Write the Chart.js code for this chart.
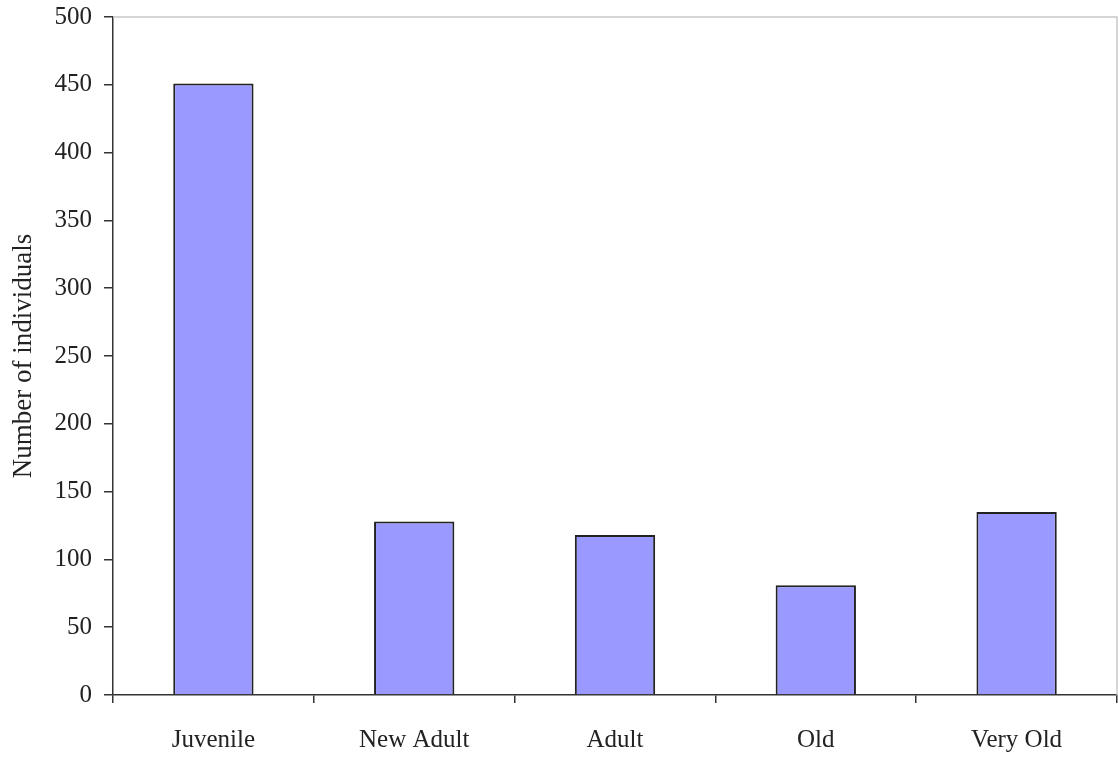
<!DOCTYPE html>
<html lang="en">
<head>
  <meta charset="utf-8">
  <title>Number of individuals</title>
  <script src="https://cdn.jsdelivr.net/npm/chart.js"></script>
  <style>
    html, body { margin: 0; padding: 0; background: #fff; }
    #wrap { width: 1118px; height: 761px; }
  </style>
</head>
<body>
  <div id="wrap"><canvas id="ageChart"></canvas></div>

  <script>
    const categories = ['Juvenile', 'New Adult', 'Adult', 'Old', 'Very Old'];
    const individuals = [451, 128, 118, 81, 135];
    const yTicks = [0, 50, 100, 150, 200, 250, 300, 350, 400, 450, 500];

    const serif = '"Liberation Serif", "Times New Roman", serif';

    // light grey frame on top and right of the plot area
    const frame = {
      id: 'frame',
      afterDraw(chart) {
        const { ctx, chartArea: a } = chart;
        ctx.save();
        ctx.strokeStyle = '#c8c8c8';
        ctx.lineWidth = 1.5;
        ctx.beginPath();
        ctx.moveTo(a.left, a.top);
        ctx.lineTo(a.right, a.top);
        ctx.lineTo(a.right, a.bottom);
        ctx.stroke();
        ctx.restore();
      }
    };

    new Chart(document.getElementById('ageChart').getContext('2d'), {
      type: 'bar',
      data: {
        labels: categories,
        datasets: [{
          label: 'Number of individuals',
          data: individuals,
          backgroundColor: '#9999ff',
          borderColor: '#222',
          borderWidth: 2,
          barPercentage: 0.4,
          categoryPercentage: 1
        }]
      },
      options: {
        responsive: true,
        maintainAspectRatio: false,
        animation: false,
        layout: { padding: { top: 17, right: 1, left: 0, bottom: 0 } },
        plugins: { legend: { display: false }, tooltip: { enabled: false } },
        scales: {
          x: {
            grid: { offset: true, drawOnChartArea: false, tickLength: 8, color: '#333', lineWidth: 1.5 },
            border: { color: '#333', width: 1.5 },
            ticks: { color: '#222', font: { family: serif, size: 25 }, padding: 22 },
            afterFit(s) { s.height = 66; s.paddingLeft = 0; s.paddingRight = 0; }
          },
          y: {
            min: 0,
            max: 500,
            afterBuildTicks(s) { s.ticks = yTicks.map(v => ({ value: v })); },
            grid: { drawOnChartArea: false, tickLength: 9, color: '#333', lineWidth: 1.5 },
            border: { color: '#333', width: 1.5 },
            ticks: { color: '#222', font: { family: serif, size: 25 }, padding: 12 },
            title: {
              display: true,
              text: 'Number of individuals',
              color: '#222',
              font: { family: serif, size: 27 },
              padding: { top: 8, bottom: 0 }
            },
            afterFit(s) { s.width = 113; s.paddingTop = 0; s.paddingBottom = 0; }
          }
        }
      },
      plugins: [frame]
    });
  </script>
</body>
</html>
